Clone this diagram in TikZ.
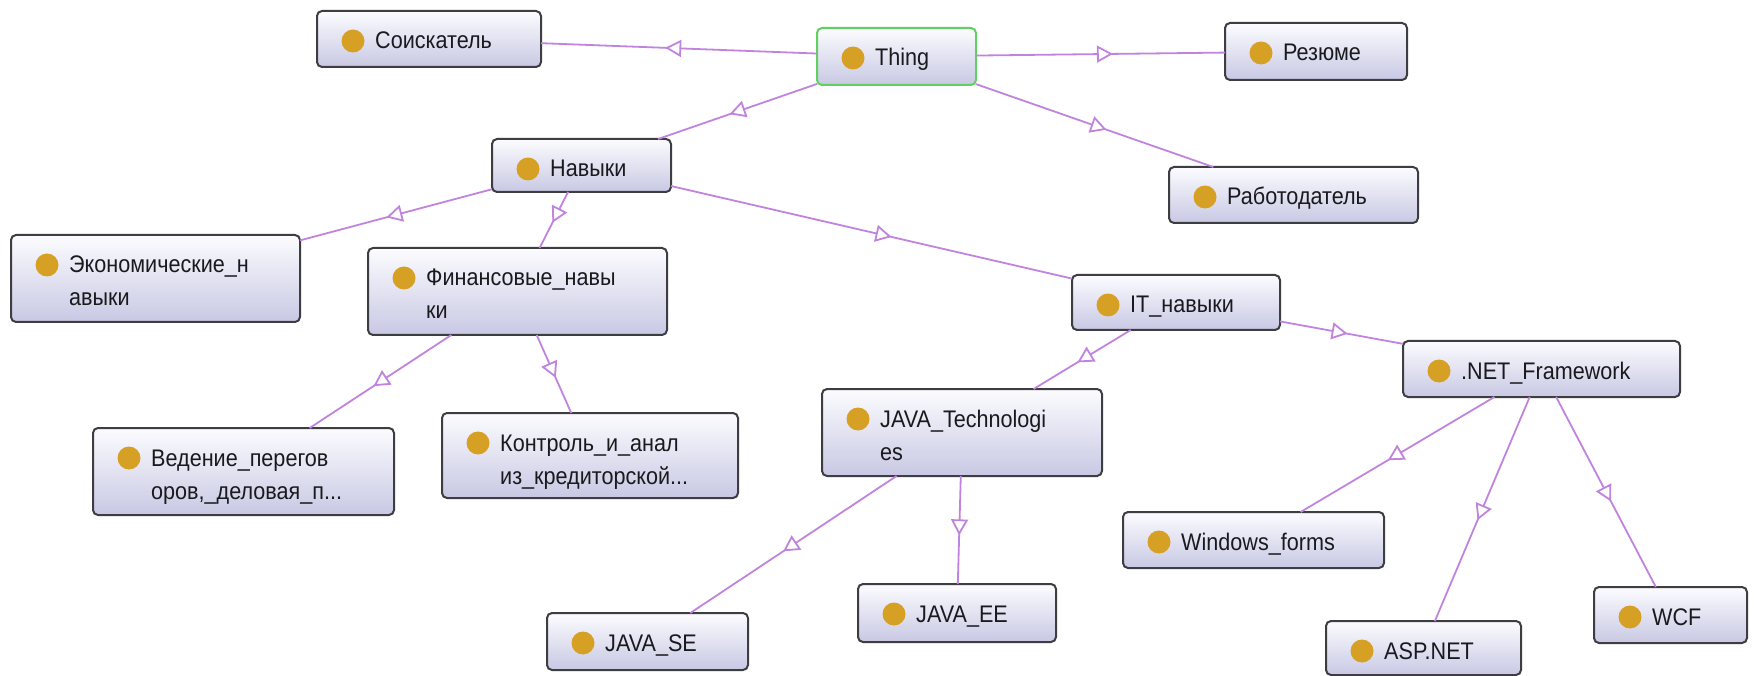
\documentclass[tikz,border=0pt]{standalone}
\usepackage{fontspec}
\setmainfont{Liberation Sans}[FakeStretch=0.9]
\usetikzlibrary{arrows.meta,decorations.markings}
\definecolor{edgec}{RGB}{192,132,222}
\definecolor{boxborder}{RGB}{62,62,66}
\definecolor{boxtop}{RGB}{252,252,255}
\definecolor{boxbot}{RGB}{200,200,228}
\definecolor{thinggreen}{RGB}{96,208,96}
\definecolor{dotgold}{RGB}{214,160,36}
\definecolor{textc}{RGB}{26,26,30}
\newcommand\ocls[8][box]{%
  \node[#1, minimum width={(#5-#3)*1pt}, minimum height={(#6-#4)*1pt}] (#2) at ({(#3+#5)/2},{(#4+#6)/2}) {};
  \fill[dotgold] (#3+36,#4+30) circle[radius=11.5];
  \node[lbl] (#2-a) at (#3+58,#4+38) {#7};
  \if\relax\detokenize{#8}\relax\else
  \node[lbl] (#2-b) at (#3+58,#4+71) {#8};
  \fi
}
\begin{document}
\begin{tikzpicture}[x=1pt,y=-1pt,
  box/.style={draw=boxborder, line width=2pt, rounded corners=5pt, top color=boxtop, bottom color=boxbot, inner sep=0pt, outer sep=0pt},
  thingbox/.style={box, draw=thinggreen},
  lbl/.style={font=\fontsize{24}{33}\selectfont, text=textc, inner sep=0pt, anchor=base west},
  isa/.style={draw=edgec, line width=1.8pt, postaction={decorate},
    decoration={markings, mark=at position 0.55 with {\arrow[color=edgec]{Triangle[length=16pt,width=17pt,fill=white]}}}},
]
\useasboundingbox (0,0) rectangle (1754,676);
\ocls{soisk}{317}{11}{541}{67}{Соискатель}{}
\ocls[thingbox]{thing}{817}{28}{976}{85}{Thing}{}
\ocls{rezume}{1225}{23}{1407}{80}{Резюме}{}
\ocls{navyki}{492}{139}{671}{192}{Навыки}{}
\ocls{rabot}{1169}{167}{1418}{223}{Работодатель}{}
\ocls{ekon}{11}{235}{300}{322}{Экономические\_н}{авыки}
\ocls{fin}{368}{248}{667}{335}{Финансовые\_навы}{ки}
\ocls{it}{1072}{275}{1280}{330}{IT\_навыки}{}
\ocls{net}{1403}{341}{1680}{397}{.NET\_Framework}{}
\ocls{ved}{93}{428}{394}{515}{Ведение\_перегов}{оров,\_деловая\_п...}
\ocls{kontr}{442}{413}{738}{498}{Контроль\_и\_анал}{из\_кредиторской...}
\ocls{jtech}{822}{389}{1102}{476}{JAVA\_Technologi}{es}
\ocls{winf}{1123}{512}{1384}{568}{Windows\_forms}{}
\ocls{jee}{858}{584}{1056}{642}{JAVA\_EE}{}
\ocls{jse}{547}{613}{748}{670}{JAVA\_SE}{}
\ocls{asp}{1326}{621}{1521}{675}{ASP.NET}{}
\ocls{wcf}{1594}{587}{1747}{643}{WCF}{}
\draw[isa] (thing) -- (soisk);
\draw[isa] (thing) -- (rezume);
\draw[isa] (thing) -- (navyki);
\draw[isa] (thing) -- (rabot);
\draw[isa] (navyki) -- (ekon);
\draw[isa] (navyki) -- (fin);
\draw[isa] (navyki) -- (it);
\draw[isa] (fin) -- (ved);
\draw[isa] (fin) -- (kontr);
\draw[isa] (it) -- (jtech);
\draw[isa] (it) -- (net);
\draw[isa] (jtech) -- (jse);
\draw[isa] (jtech) -- (jee);
\draw[isa] (net) -- (winf);
\draw[isa] (net) -- (asp);
\draw[isa] (net) -- (wcf);
\end{tikzpicture}
\end{document}
